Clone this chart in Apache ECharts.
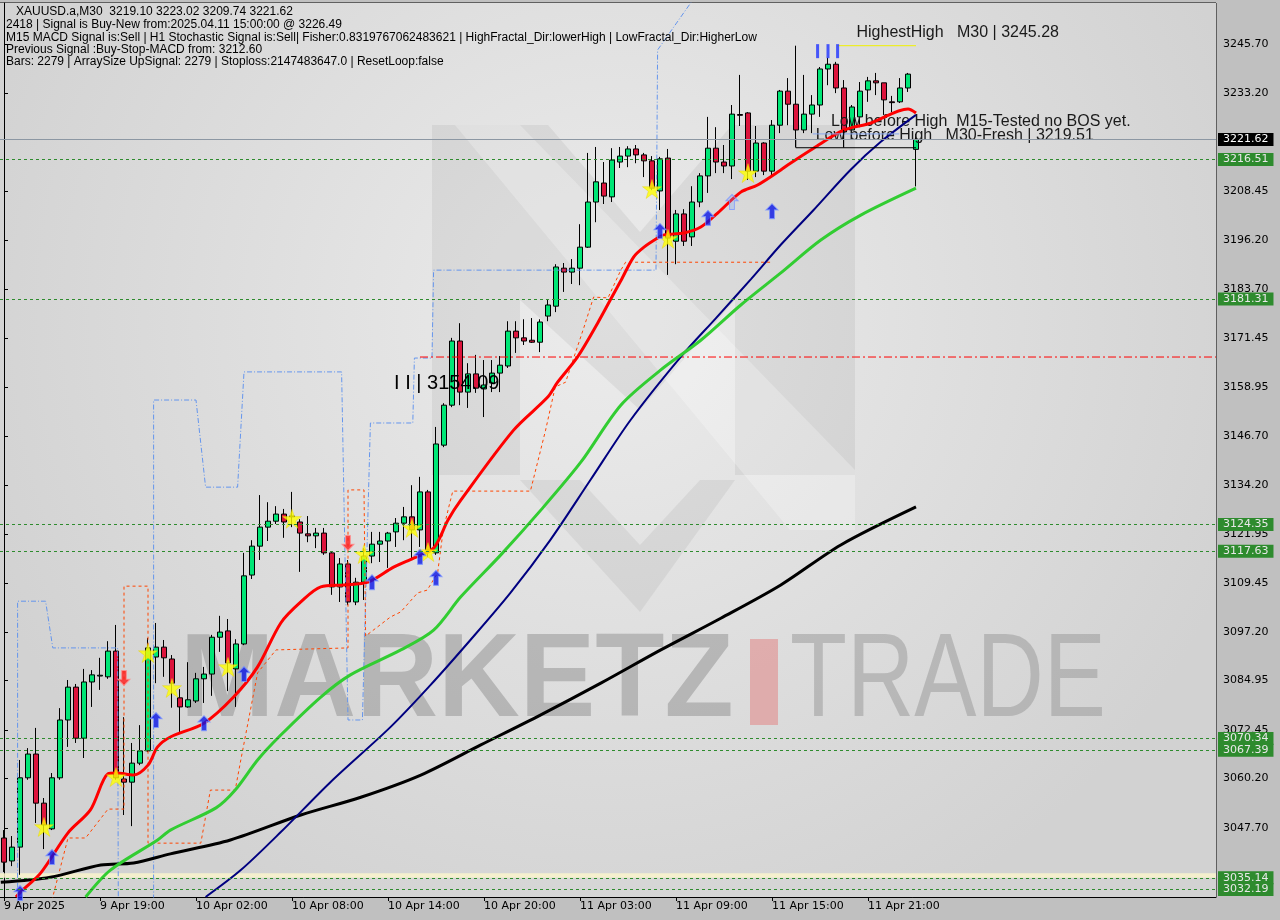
<!DOCTYPE html>
<html><head><meta charset="utf-8">
<script src="https://cdn.jsdelivr.net/npm/echarts@6/dist/echarts.min.js"></script>
<style>html,body{margin:0;padding:0;background:#C0C0C0;}#chart{width:1280px;height:920px;}</style>
</head><body><div id="chart"></div>
<script>
// ---------- DATA ----------
const tickLabels = ['9 Apr 2025','9 Apr 19:00','10 Apr 02:00','10 Apr 08:00','10 Apr 14:00','10 Apr 20:00','11 Apr 03:00','11 Apr 09:00','11 Apr 15:00','11 Apr 21:00'];
const yTicks = [3245.70,3233.20,3208.45,3196.20,3183.70,3171.45,3158.95,3146.70,3134.20,3121.95,3109.45,3097.20,3084.95,3072.45,3060.20,3047.70];
const levels = [3216.51,3181.31,3124.35,3117.63,3070.34,3067.39,3035.14,3032.19];
const currentPrice = 3221.62;
const opens = [3045.2,3039.4,3042.9,3060.4,3066.4,3054.0,3047.5,3060.4,3075.0,3083.3,
3070.4,3084.6,3086.1,3085.9,3092.4,3060.1,3059.3,3064.1,3067.2,3090.9,
3093.4,3090.4,3080.6,3078.3,3079.8,3085.4,3086.6,3095.9,3097.5,3087.9,
3094.2,3111.6,3118.9,3123.7,3125.2,3127.0,3126.5,3125.0,3122.0,3121.5,
3122.2,3117.2,3108.6,3114.4,3104.8,3109.8,3116.4,3119.4,3120.2,3122.5,
3124.7,3126.3,3123.0,3132.6,3117.2,3144.4,3154.5,3170.7,3157.8,3162.4,
3158.6,3160.1,3162.6,3164.4,3173.2,3171.5,3170.9,3170.4,3177.0,3179.5,
3189.1,3188.1,3189.1,3194.4,3205.8,3210.6,3207.1,3215.9,3217.4,3219.2,
3217.7,3216.2,3208.6,3216.9,3195.9,3202.8,3197.0,3205.8,3212.4,3219.4,
3215.9,3214.9,3227.9,3228.3,3213.6,3220.7,3213.6,3225.2,3233.8,3230.5,
3224.0,3228.0,3230.3,3239.4,3240.6,3234.6,3224.0,3227.3,3234.1,3236.4,
3235.9,3231.1,3231.1,3234.6,3219.10];
const closes = [3039.1,3042.9,3060.4,3066.4,3054.0,3048.5,3060.4,3075.0,3083.3,3070.4,
3084.6,3086.4,3086.3,3092.4,3060.4,3059.3,3064.1,3067.2,3093.2,3093.4,
3090.7,3084.3,3078.3,3080.1,3085.4,3086.6,3095.9,3097.2,3089.4,3094.2,
3111.4,3118.9,3123.7,3125.2,3127.0,3125.0,3126.3,3122.2,3121.5,3122.2,
3117.2,3108.6,3114.4,3104.8,3109.8,3116.4,3119.4,3120.2,3122.2,3124.7,
3126.3,3123.0,3132.6,3117.9,3144.7,3154.5,3170.7,3157.8,3162.4,3158.8,
3159.6,3162.6,3164.6,3173.2,3171.5,3170.7,3170.4,3175.5,3179.8,3189.4,
3188.1,3189.1,3194.4,3205.8,3210.9,3207.3,3216.4,3217.4,3219.2,3217.7,
3216.2,3209.3,3216.7,3196.7,3202.8,3195.9,3205.8,3212.4,3219.4,3215.9,
3214.9,3228.0,3227.7,3213.6,3220.7,3213.6,3225.2,3233.8,3230.5,3224.0,
3228.0,3230.3,3239.4,3240.6,3234.6,3223.5,3229.8,3233.8,3236.4,3235.9,
3231.6,3230.9,3234.6,3238.1,3221.62];
const highs = [3047.2,3045.7,3064.9,3067.9,3073.0,3055.3,3061.6,3078.0,3085.1,3084.1,
3087.9,3087.6,3090.7,3094.9,3099.0,3075.7,3069.2,3073.7,3095.7,3099.5,
3095.2,3091.4,3082.8,3089.6,3086.9,3088.4,3096.5,3101.3,3100.5,3095.4,
3117.2,3120.4,3131.8,3130.0,3129.0,3128.3,3132.6,3125.7,3126.5,3123.5,
3123.5,3117.4,3115.9,3115.4,3110.9,3118.4,3122.5,3122.5,3122.5,3126.0,
3128.8,3134.3,3136.4,3133.1,3149.0,3155.0,3171.5,3175.2,3165.1,3167.2,
3165.9,3165.9,3166.9,3175.7,3175.7,3176.2,3176.5,3176.2,3181.1,3190.1,
3190.4,3191.4,3200.2,3218.2,3219.7,3215.9,3219.4,3219.7,3219.9,3220.2,
3218.2,3217.4,3217.2,3219.2,3203.8,3204.0,3209.8,3213.1,3227.3,3224.7,
3220.2,3230.3,3237.9,3228.5,3225.0,3220.9,3226.5,3234.1,3237.1,3245.28,
3237.9,3232.8,3239.9,3242.2,3241.2,3236.6,3230.3,3236.1,3237.4,3238.4,
3235.9,3232.6,3237.1,3238.4,3223.02];
const lows = [3036.6,3038.1,3035.9,3059.9,3049.0,3042.4,3047.2,3059.9,3068.2,3069.2,
3065.4,3078.3,3082.6,3085.4,3059.9,3051.0,3048.2,3063.6,3066.9,3084.3,
3085.9,3078.1,3071.9,3078.1,3079.3,3079.3,3081.1,3092.2,3082.3,3078.3,
3093.9,3110.6,3115.4,3120.2,3124.5,3121.0,3123.7,3112.4,3119.9,3118.4,
3116.7,3106.6,3104.8,3104.0,3104.0,3105.3,3114.6,3114.9,3113.4,3118.7,
3120.4,3115.9,3118.7,3116.2,3116.7,3143.9,3154.0,3154.5,3153.8,3157.6,
3151.5,3157.8,3157.8,3163.9,3167.7,3169.7,3170.2,3167.9,3175.7,3178.0,
3183.1,3185.1,3184.8,3194.2,3200.7,3205.3,3205.8,3214.4,3214.6,3215.6,
3212.1,3208.8,3203.8,3187.4,3190.1,3194.7,3194.7,3204.5,3208.1,3213.1,
3213.1,3211.6,3225.0,3211.4,3212.1,3212.6,3212.6,3223.2,3225.2,3219.7,
3223.2,3223.2,3227.3,3235.3,3233.3,3219.7,3223.5,3224.7,3231.1,3232.8,
3227.8,3228.5,3230.8,3233.6,3209.74];
// moving averages, read as [bar index, price]
const maRed = [[1.5,3030.3],[2.1,3031.6],[4.6,3036.4],[8.0,3046.5],[10.8,3052.3],[13.0,3061.4],[14.0,3061.6],[16.2,3061.1],[18.0,3063.6],[19.2,3068.2],[20.8,3070.7],[25.0,3074.2],[28.7,3080.8],[31.7,3088.4],[34.6,3099.5],[37.1,3104.8],[39.6,3108.6],[42.5,3109.1],[45.5,3109.8],[48.7,3113.6],[51.2,3115.9],[53.7,3118.4],[55.5,3125.5],[57.1,3130.5],[63.7,3148.2],[68.0,3156.6],[69.2,3160.3],[71.7,3166.7],[74.2,3175.2],[75.8,3181.1],[77.1,3185.9],[78.7,3191.9],[80.0,3194.4],[81.7,3196.7],[82.5,3197.5],[85.0,3198.0],[87.1,3199.5],[89.2,3203.0],[92.1,3208.3],[94.2,3210.1],[97.1,3213.9],[98.3,3215.6],[101.2,3219.4],[105.0,3224.0],[108.3,3225.7],[113.0,3229.3],[114.0,3228.3]];
const maGreen = [[10.2,3030.3],[13.3,3037.1],[19.2,3044.7],[20.8,3047.2],[26.5,3052.8],[28.9,3057.3],[31.7,3064.9],[34.6,3071.2],[39.6,3080.8],[43.3,3086.4],[49.6,3092.7],[53.7,3097.7],[57.1,3106.1],[62.1,3116.7],[67.1,3128.0],[72.1,3140.1],[77.1,3154.5],[82.1,3163.4],[87.1,3170.9],[92.1,3179.8],[97.1,3187.9],[102.1,3196.2],[107.1,3202.5],[114.0,3209.3]];
const maNavy = [[25.2,3030.3],[29.6,3037.1],[34.6,3046.7],[40.8,3059.3],[48.3,3073.2],[53.3,3083.8],[58.3,3095.2],[63.3,3107.1],[68.3,3120.5],[73.3,3135.6],[78.3,3150.7],[84.6,3166.7],[89.0,3176.5],[93.4,3186.4],[97.1,3195.0],[101.2,3203.8],[105.8,3213.9],[109.6,3221.0],[114.0,3227.8]];
const maBlack = [[-0.4,3034.0],[5.8,3035.3],[12.1,3038.4],[16.2,3038.9],[20.8,3041.2],[28.3,3044.7],[37.1,3051.0],[44.6,3055.5],[52.1,3061.1],[59.6,3068.7],[67.1,3076.3],[74.6,3084.3],[82.1,3092.7],[89.6,3100.7],[97.1,3109.1],[104.6,3119.2],[114.0,3128.8]];
const chanUpper = [[1.7,3020],[1.7,3105.0],[5.2,3105.0],[6.1,3093.2],[14.2,3093.2],[14.3,3020],[18.7,3020],[18.7,3155.8],[24.0,3155.8],[25.2,3133.8],[29.2,3133.8],[30.0,3162.9],[42.2,3162.9],[43.0,3075.0],[44.8,3075.0],[45.8,3150.0],[51.1,3150.0],[51.3,3166.4],[53.5,3166.4],[53.7,3188.6],[81.5,3188.6],[81.7,3244.2],[87.2,3260]];
const chanLower = [[5.8,3028],[8.0,3045.2],[10.2,3045.2],[13.0,3052.5],[15.0,3052.5],[15.0,3108.8],[18.0,3108.8],[18.0,3043.9],[24.6,3043.9],[25.8,3057.3],[28.9,3057.3],[29.6,3064.9],[31.7,3086.9],[34.0,3092.7],[43.0,3093.2],[43.0,3133.1],[45.0,3133.1],[45.2,3096.2],[48.3,3101.0],[49.6,3102.3],[51.7,3107.1],[52.9,3107.8],[54.2,3112.1],[54.9,3122.9],[55.6,3128.8],[56.1,3132.8],[65.8,3132.8],[67.7,3148.2],[68.9,3159.1],[70.2,3160.3],[72.5,3174.2],[73.7,3181.8],[75.5,3181.6],[77.1,3188.6],[77.7,3190.6],[95.8,3190.6]];
const stars = [[5,3048.0],[14,3060.6],[18,3091.9],[21,3083.1],[28,3088.4],[36,3125.8],[45,3116.9],[51,3123.5],[53,3117.4],[81,3209.1],[83,3196.5],[93,3213.1]];
const upArrows = [[2,3031.3],[6,3040.4],[19,3075.0],[25,3074.2],[30,3086.6],[46,3109.8],[52,3116.2],[54,3110.9],[82,3198.5],[88,3201.8],[96,3203.5]];
const paleArrows = [[91,3205.8]];
const downArrows = [[15,3085.6],[43,3119.7]];
const highMarks = [[101.7,3243.9],[103.0,3243.9],[104.2,3243.9]];
const fractalLine = [[52.0,3166.66],[151.5,3166.66]];
const highestHighLine = [[104.2,3245.28],[114.0,3245.28]];
const lowBeforeHighM15Line = [[101.1,3223.0],[111.9,3223.0]];
const lowBeforeHighM30Box = [[98.97,3221.9],[98.97,3219.51],[114.0,3219.51]];
const lowBeforeHighM30Tick = [[104.96,3224.0],[104.96,3219.51]];
const annotations = [
  {name:'HighestHigh   M30 | 3245.28', coord:[106.5,3248.5]},
  {name:'Low before High  M15-Tested no BOS yet.', coord:[103.3,3226.0]},
  {name:'Low before High   M30-Fresh | 3219.51', coord:[101.4,3222.7]},
  {name:'I I | 3154.09', coord:[48.7,3160.1]}
];
const headerLines = [
  '   XAUUSD.a,M30  3219.10 3223.02 3209.74 3221.62',
  '2418 | Signal is Buy-New from:2025.04.11 15:00:00 @ 3226.49',
  'M15 MACD Signal is:Sell | H1 Stochastic Signal is:Sell| Fisher:0.8319767062483621 | HighFractal_Dir:lowerHigh | LowFractal_Dir:HigherLow',
  'Previous Signal :Buy-Stop-MACD from: 3212.60',
  'Bars: 2279 | ArraySize UpSignal: 2279 | Stoploss:2147483647.0 | ResetLoop:false'
];

// ---------- CHART ----------
const SLOTS = 152;
const cats = Array.from({length: SLOTS}, (_, i) => String(i));
const candleData = opens.map((o, i) => [o, closes[i], lows[i], highs[i]]);
const tickShown = (i) => i % 12 === 0 && i / 12 < tickLabels.length;
const AX_FONT = 'DejaVu Sans';
const STAR = 'path://M50,0 L61.8,35.4 L99,35.4 L69,57.3 L80.4,92.7 L50,70.8 L19.6,92.7 L31,57.3 L1,35.4 L38.2,35.4 Z';
const ARROW = 'path://M5,0 L10,5 L7,5 L7,12 L3,12 L3,5 L0,5 Z';

const greenLabel = {show:true, position:'end', distance:2, formatter:(p)=>p.value.toFixed(2),
  backgroundColor:'#2E8B2E', color:'#E8E8E8', fontFamily:AX_FONT, fontSize:11, lineHeight:12, padding:[1,5,0,5]};
const levelLines = levels.map(v => ({yAxis:v, lineStyle:{color:'#2E8B2E', type:[3,3], width:1}, label:greenLabel}));
levelLines.push({yAxis:currentPrice, lineStyle:{color:'#8C97A3', type:'solid', width:1},
  label:Object.assign({}, greenLabel, {backgroundColor:'#000000', color:'#FFFFFF'})});

const segSeries = (data, color, type, z) => ({type:'line', xAxisIndex:1, data, symbol:'none', z:z||7,
  silent:true, lineStyle:{color, width:1, type}});

const graphics = [
  {type:'rect', z:0, shape:{x:0, y:3, width:1216, height:894},
   style:{fill:new echarts.graphic.RadialGradient(0.5, 0.35, 0.75, [{offset:0,color:'#ECECEC'},{offset:1,color:'#D2D2D2'}])}},
  {type:'polygon', z:0, shape:{points:[[432,125],[548,125],[640,232],[732,125],[855,125],[855,475],[735,475],[735,300],[640,410],[520,300],[520,475],[432,475]]},
   style:{fill:'rgba(150,150,150,0.16)'}},
  {type:'polygon', z:0, shape:{points:[[520,480],[580,480],[640,545],[700,480],[735,480],[640,612]]},
   style:{fill:'rgba(150,150,150,0.16)'}},
  {type:'polygon', z:0, shape:{points:[[455,125],[520,125],[855,470],[855,530],[790,530]]},
   style:{fill:'rgba(255,255,255,0.25)'}},
  {type:'text', z:0, x:180, y:683, scaleX:0.96,
   style:{text:'MARKETZ', font:'bold 118px "Liberation Sans"', fill:'rgba(150,150,150,0.55)', verticalAlign:'middle'}},
  {type:'rect', z:0, shape:{x:750, y:639, width:28, height:86}, style:{fill:'rgba(225,140,140,0.6)'}},
  {type:'text', z:0, x:790, y:683, scaleX:0.79,
   style:{text:'TRADE', font:'118px "Liberation Sans"', fill:'rgba(150,150,150,0.5)', verticalAlign:'middle'}}
];
const lineYs = [12, 25, 37.5, 49.5, 61.5];
headerLines.forEach((t, k) => graphics.push({type:'text', z:20, x:6, y:lineYs[k],
  style:{text:t, font:'12px "Liberation Sans"', fill:'#000', verticalAlign:'middle'}}));

const option = {
  animation:false,
  backgroundColor:'#C0C0C0',
  grid:{left:0, right:64, top:3, bottom:23, show:true, borderColor:'#000', borderWidth:1, backgroundColor:'transparent'},
  graphic:graphics,
  xAxis:[
    {type:'category', data:cats, boundaryGap:true,
     axisLine:{show:true, lineStyle:{color:'#000'}},
     axisTick:{show:true, alignWithLabel:true, interval:(i)=>tickShown(i), length:4, lineStyle:{color:'#000'}},
     axisLabel:{interval:(i)=>tickShown(i), formatter:(v, i)=>tickShown(i) ? tickLabels[i/12] : '',
       align:'left', margin:4, color:'#000', fontFamily:AX_FONT, fontSize:11},
     splitLine:{show:false}},
    {type:'value', min:-0.5, max:SLOTS-0.5, show:false}
  ],
  yAxis:{type:'value', position:'right', min:3030.30, max:3256.06, scale:true,
    axisLine:{show:true, lineStyle:{color:'#000'}},
    axisTick:{show:true, customValues:yTicks, length:4, lineStyle:{color:'#000'}},
    axisLabel:{customValues:yTicks, formatter:(v)=>v.toFixed(2), margin:7, color:'#000', fontFamily:AX_FONT, fontSize:11},
    splitLine:{show:false}},
  series:[
    {type:'candlestick', data:candleData, barWidth:5, z:3,
     itemStyle:{color:'#00E676', color0:'#DC143C', borderColor:'#000', borderColor0:'#000', borderColorDoji:'#000', borderWidth:1},
     markLine:{silent:true, symbol:['none','none'], z:12, animation:false, data:levelLines},
     markArea:{silent:true, itemStyle:{color:'rgba(250,245,205,0.85)'}, data:[[{yAxis:3035.14},{yAxis:3036.3}]]}
    },
    {type:'line', xAxisIndex:1, data:chanUpper, symbol:'none', z:4, lineStyle:{color:'#6495ED', width:1, type:[5,2,1,2]}},
    {type:'line', xAxisIndex:1, data:chanLower, symbol:'none', z:4, lineStyle:{color:'#FF4500', width:1, type:[3,3]}},
    segSeries(fractalLine, '#FF0000', [8,3,2,3], 4),
    {type:'line', xAxisIndex:1, data:maBlack, symbol:'none', smooth:0.3, z:5, lineStyle:{color:'#000', width:3}},
    {type:'line', xAxisIndex:1, data:maNavy, symbol:'none', smooth:0.3, z:5, lineStyle:{color:'#000080', width:2}},
    {type:'line', xAxisIndex:1, data:maGreen, symbol:'none', smooth:0.3, z:5, lineStyle:{color:'#32CD32', width:3}},
    {type:'line', xAxisIndex:1, data:maRed, symbol:'none', smooth:0.3, z:6, lineStyle:{color:'#FF0000', width:3},
     markPoint:{silent:true, symbol:'circle', symbolSize:1, itemStyle:{color:'rgba(0,0,0,0)'},
       label:{show:true, position:'right', distance:0, formatter:(p)=>p.name, color:'#1A1A1A', fontFamily:'Liberation Sans', fontSize:16},
       data:annotations.map(a => a.name.indexOf('3154') >= 0 ? Object.assign({}, a, {label:{fontSize:20, color:'#000'}}) : a)}
    },
    segSeries(highestHighLine, '#F0F000', 'solid'),
    segSeries(lowBeforeHighM15Line, '#87A8F0', 'solid'),
    segSeries(lowBeforeHighM30Box, '#000000', 'solid'),
    segSeries(lowBeforeHighM30Tick, '#000000', 'solid'),
    {type:'scatter', xAxisIndex:1, data:highMarks, symbol:'rect', symbolSize:[3,14], z:8, itemStyle:{color:'#1E32FF'}},
    {type:'scatter', xAxisIndex:1, data:stars, symbol:STAR, symbolSize:19, z:8, itemStyle:{color:'#FFFF00', borderColor:'#E6D200', borderWidth:0.5}},
    {type:'scatter', xAxisIndex:1, data:upArrows, symbol:ARROW, symbolSize:[12,15], z:8, itemStyle:{color:'#0A14E6', borderColor:'#7C96FF', borderWidth:1}},
    {type:'scatter', xAxisIndex:1, data:paleArrows, symbol:ARROW, symbolSize:[12,15], z:8, itemStyle:{color:'rgba(120,160,255,0.35)', borderColor:'#7C96FF', borderWidth:1}},
    {type:'scatter', xAxisIndex:1, data:downArrows, symbol:ARROW, symbolRotate:180, symbolSize:[12,15], z:8, itemStyle:{color:'#FF1A1A', borderColor:'#FF9090', borderWidth:1}}
  ]
};
const chart = echarts.init(document.getElementById('chart'));
chart.setOption(option);
</script>
</body></html>
